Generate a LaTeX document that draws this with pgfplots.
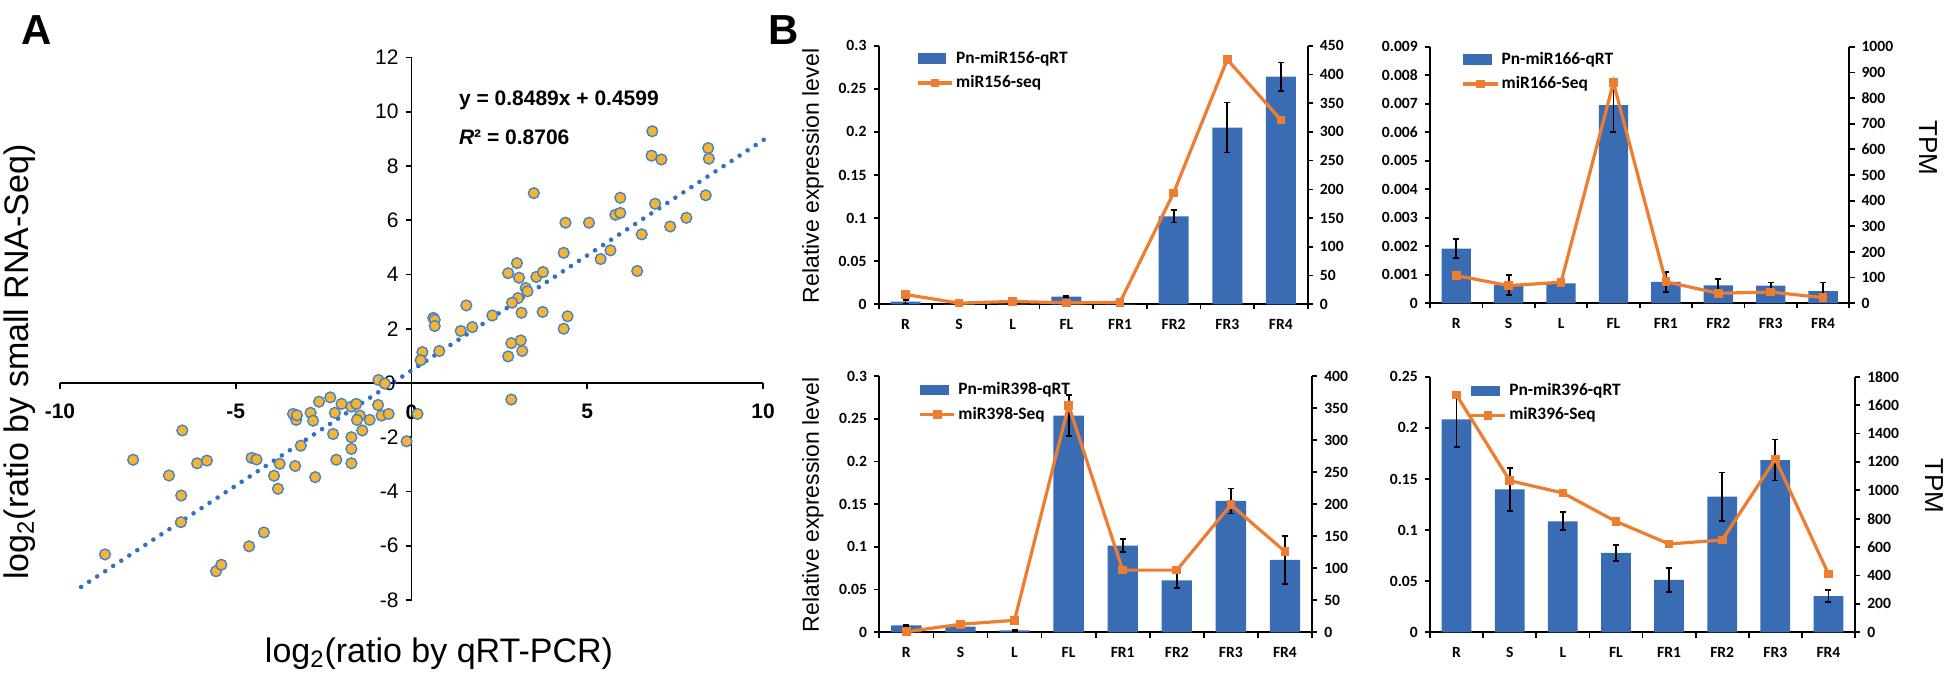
\documentclass[border=0pt]{standalone}
\usepackage{fontspec}
\setmainfont{Liberation Sans}
\newfontfamily\carlito{Carlito}
\usepackage{pgfplots}
\usepackage{pgfplotstable}
\pgfplotsset{compat=1.18}
\definecolor{barblue}{RGB}{58,108,180}
\definecolor{lineorange}{RGB}{237,125,49}
\definecolor{dotfill}{RGB}{245,180,50}
\definecolor{dotedge}{RGB}{70,130,200}
\definecolor{trendblue}{RGB}{50,112,192}

\pgfplotstableread{
x y
6.85 9.28
6.83 8.38
7.11 8.24
8.44 8.66
8.46 8.27
8.37 6.92
3.48 7.00
5.94 6.83
6.93 6.61
5.80 6.20
5.94 6.27
4.38 5.91
5.05 5.91
7.82 6.09
7.36 5.77
6.55 5.48
4.33 4.80
5.66 4.89
5.38 4.57
6.42 4.13
3.00 4.42
2.75 4.05
3.06 3.88
3.55 3.91
3.74 4.09
3.25 3.50
3.30 3.38
3.03 3.13
2.86 2.96
3.13 2.59
3.73 2.62
4.44 2.46
4.33 2.00
1.56 2.86
0.62 2.40
0.66 2.33
0.66 2.10
2.30 2.49
1.73 2.06
1.40 1.92
2.84 1.47
3.11 1.57
3.15 1.18
2.75 0.98
0.79 1.18
0.31 1.14
0.26 0.84
2.84 -0.61
-0.94 0.11
-0.76 -0.02
0.17 -1.14
-0.14 -2.15
-6.52 -1.75
-7.92 -2.83
-6.90 -3.41
-6.55 -4.15
-6.56 -5.13
-6.10 -2.96
-5.82 -2.86
-8.72 -6.32
-5.56 -6.94
-5.41 -6.70
-4.62 -6.02
-4.20 -5.51
-4.55 -2.76
-4.41 -2.82
-3.91 -3.42
-3.80 -3.90
-3.75 -2.98
-3.31 -3.06
-3.15 -2.31
-2.74 -3.47
-3.37 -1.14
-3.28 -1.36
-3.26 -1.19
-2.87 -1.10
-2.80 -1.39
-2.63 -0.69
-2.31 -0.53
-2.18 -1.10
-2.23 -1.88
-2.14 -2.83
-1.99 -0.77
-1.71 -0.87
-1.57 -0.77
-1.47 -1.20
-1.55 -1.36
-1.71 -2.00
-1.71 -2.43
-1.71 -2.96
-1.40 -1.75
-1.19 -1.36
-0.95 -0.81
-0.85 -1.20
-0.65 -1.14
}\scatterdata

\pgfplotstableread{
x qrt err seq
0 0.003 0.002 17
1 0.0005 0 2
2 0.0005 0 5
3 0.009 0.001 2.5
4 0.0003 0 3.5
5 0.102 0.007 194
6 0.205 0.029 426
7 0.264 0.0165 321
}\mirA
\pgfplotstableread{
x qrt err seq
0 0.00192 0.00034 108
1 0.00064 0.00034 69
2 0.00070 0.00002 82
3 0.00695 0.00093 860
4 0.00075 0.00035 84
5 0.00063 0.00021 39
6 0.00062 0.00011 44
7 0.00043 0.00030 22
}\mirB
\pgfplotstableread{
x qrt err seq
0 0.0082 0.001 1
1 0.0066 0.0005 12.5
2 0.0023 0.0005 18.7
3 0.2536 0.024 354
4 0.1014 0.0078 97
5 0.0609 0.0094 97
6 0.1537 0.0146 199
7 0.0847 0.028 126
}\mirC
\pgfplotstableread{
x qrt err seq
0 0.2083 0.027 1671
1 0.1398 0.021 1068
2 0.1085 0.0088 981
3 0.0776 0.008 781
4 0.0512 0.012 622
5 0.1327 0.0236 650
6 0.1685 0.020 1220
7 0.0355 0.0057 411
}\mirD

\pgfplotsset{
  tickfont/.style={font=\carlito\bfseries\fontsize{7.8}{9}\selectfont},
  barax/.style={
    scale only axis,
    anchor=south west,
    xmin=-0.5, xmax=7.5,
    axis x line=bottom, axis y line=left,
    axis line style={line width=0.85pt,-},
    xtick={0,...,7},
    xticklabels={R,S,L,FL,FR1,FR2,FR3,FR4},
    minor xtick={-0.5,0.5,...,7.5},
    major x tick style={draw=none},
    minor x tick style={line width=0.85pt,black},
    minor tick length=2.6pt,
    major tick length=2.6pt,
    tick align=outside,
    y tick style={line width=0.85pt,black},
    ymin=0,
    tickfont,
    xticklabel style={tickfont, yshift=-1.5pt},
    yticklabel style={tickfont},
    legend cell align=left,
    legend style={draw=none, fill=none, inner sep=0pt, row sep=2.2pt,
      font=\carlito\bfseries\fontsize{8.7}{10}\selectfont,
      nodes={inner sep=1.2pt}},
  },
  lineax/.style={
    scale only axis,
    anchor=south west,
    xmin=-0.5, xmax=7.5,
    axis x line=none, axis y line=right,
    axis line style={line width=0.85pt,-},
    ymin=0,
    major tick length=2.6pt,
    tick align=outside,
    y tick style={line width=0.85pt,black},
    yticklabel style={tickfont},
  },
  barplot/.style={ybar, bar width=0.56, fill=barblue, draw=none, bar shift=0pt,
    legend image code/.code={\fill[barblue] (0pt,-2.6pt) rectangle (14.2pt,2.6pt);},
    error bars/.cd, y dir=both, y explicit,
    error bar style={black, line width=0.9pt},
    error mark options={black, line width=0.9pt, mark size=1.5pt, rotate=90}},
  seqplot/.style={lineorange, line width=1.6pt, mark=square*, mark size=1.9pt,
    mark options={fill=lineorange, draw=lineorange, line width=0pt}},
}

\begin{document}
\begin{tikzpicture}
\useasboundingbox (0,0) rectangle (973pt,340pt);

% ---------------- Panel A ----------------
\begin{axis}[
  scale only axis, anchor=south west, at={(30pt,40pt)},
  width=351.5pt, height=271.25pt,
  xmin=-10, xmax=10, ymin=-8, ymax=12,
  axis lines=middle,
  axis line style={line width=0.9pt,-},
  xtick={-10,-5,0,5,10},
  xticklabels={-10,-5,0,5,10},
  ytick={-8,-6,...,12},
  yticklabels={-8,-6,-4,-2,0,2,4,6,8,10,12},
  tick align=outside,
  major tick length=3pt,
  tick style={line width=0.9pt,black},
  xticklabel style={font=\bfseries\fontsize{10.5}{12}\selectfont, yshift=-4pt},
  yticklabel style={font=\fontsize{10.5}{12}\selectfont},
  clip=false,
]
\addplot[trendblue, line width=2.3pt, line cap=round, dash pattern=on 0pt off 4.8pt]
  coordinates {(-9.4,-7.52) (10.17,9.093)};
\node[font=\fontsize{10.5}{12}\selectfont, anchor=east] at (axis cs:0,0) [xshift=-4.5pt] {0};
\node[font=\bfseries\fontsize{10.5}{12}\selectfont, anchor=north] at (axis cs:0,0) [yshift=-7.3pt] {0};
\addplot[only marks, mark=*, mark size=2.7pt,
  mark options={fill=dotfill, draw=dotedge, line width=0.7pt}]
  table[x=x,y=y] {\scatterdata};
\end{axis}
\node[font=\bfseries\fontsize{10.5}{12}\selectfont, anchor=west] at (226pt,289.6pt) {y = 0.8489x + 0.4599};
\node[font=\bfseries\fontsize{10.5}{12}\selectfont, anchor=west] at (226pt,271.3pt) {\textit{R}² = 0.8706};
\node[font=\fontsize{17}{20}\selectfont] at (219.5pt,13pt) {log\textsubscript{2}(ratio by qRT-PCR)};
\node[font=\fontsize{17}{20}\selectfont, rotate=90] at (10pt,159pt) {log\textsubscript{2}(ratio by small RNA-Seq)};
\node[font=\bfseries\fontsize{21}{24}\selectfont] at (18.5pt,325pt) {A};
\node[font=\bfseries\fontsize{21}{24}\selectfont] at (392pt,325pt) {B};

% ---------------- Panel B: miR156 ----------------
\begin{axis}[barax, at={(439.35pt,187.85pt)}, width=214.5pt, height=129.3pt,
  ymax=0.3, ytick={0,0.05,...,0.3}, yticklabels={0,0.05,0.1,0.15,0.2,0.25,0.3},
  legend style={at={(0.087,0.99)}, anchor=north west}]
\addplot[barplot] table[x=x,y=qrt,y error=err] {\mirA};
\addlegendentry{Pn-miR156-qRT}
\addlegendimage{seqplot}
\addlegendentry{miR156-seq}
\end{axis}
\begin{axis}[lineax, at={(439.35pt,187.85pt)}, width=214.5pt, height=129.3pt,
  ymax=450, ytick={0,50,...,450}, yticklabels={0,50,100,150,200,250,300,350,400,450}]
\addplot[seqplot] table[x=x,y=seq] {\mirA};
\end{axis}

% ---------------- Panel B: miR166 ----------------
\begin{axis}[barax, at={(715pt,188.35pt)}, width=209.65pt, height=128.3pt,
  ymax=0.009, ytick={0,0.001,...,0.009}, scaled y ticks=false,
  yticklabels={0,0.001,0.002,0.003,0.004,0.005,0.006,0.007,0.008,0.009},
  legend style={at={(0.075,0.99)}, anchor=north west}]
\addplot[barplot] table[x=x,y=qrt,y error=err] {\mirB};
\addlegendentry{Pn-miR166-qRT}
\addlegendimage{seqplot}
\addlegendentry{miR166-Seq}
\end{axis}
\begin{axis}[lineax, at={(715pt,188.35pt)}, width=209.65pt, height=128.3pt,
  ymax=1000, ytick={0,100,...,1000}, yticklabels={0,100,200,300,400,500,600,700,800,900,1000}]
\addplot[seqplot] table[x=x,y=seq] {\mirB};
\end{axis}

% ---------------- Panel B: miR398 ----------------
\begin{axis}[barax, at={(439.65pt,23.85pt)}, width=216.35pt, height=128.15pt,
  ymax=0.3, ytick={0,0.05,...,0.3}, yticklabels={0,0.05,0.1,0.15,0.2,0.25,0.3},
  legend style={at={(0.09,0.985)}, anchor=north west}]
\addplot[barplot] table[x=x,y=qrt,y error=err] {\mirC};
\addlegendentry{Pn-miR398-qRT}
\addlegendimage{seqplot}
\addlegendentry{miR398-Seq}
\end{axis}
\begin{axis}[lineax, at={(439.65pt,23.85pt)}, width=216.35pt, height=128.15pt,
  ymax=400, ytick={0,50,...,400}, yticklabels={0,50,100,150,200,250,300,350,400}]
\addplot[seqplot] table[x=x,y=seq] {\mirC};
\end{axis}

% ---------------- Panel B: miR396 ----------------
\begin{axis}[barax, at={(715pt,23.85pt)}, width=212.5pt, height=127.8pt,
  ymax=0.25, ytick={0,0.05,...,0.25}, yticklabels={0,0.05,0.1,0.15,0.2,0.25},
  legend style={at={(0.092,0.985)}, anchor=north west}]
\addplot[barplot] table[x=x,y=qrt,y error=err] {\mirD};
\addlegendentry{Pn-miR396-qRT}
\addlegendimage{seqplot}
\addlegendentry{miR396-Seq}
\end{axis}
\begin{axis}[lineax, at={(715pt,23.85pt)}, width=212.5pt, height=127.8pt,
  ymax=1800, ytick={0,200,...,1800}, yticklabels={0,200,400,600,800,1000,1200,1400,1600,1800}]
\addplot[seqplot] table[x=x,y=seq] {\mirD};
\end{axis}

\node[font=\fontsize{11.5}{13}\selectfont, rotate=90] at (406.5pt,252pt) {Relative expression level};
\node[font=\fontsize{11.5}{13}\selectfont, rotate=90] at (406.5pt,87.5pt) {Relative expression level};
\node[font=\fontsize{13}{15}\selectfont, rotate=-90] at (964pt,266pt) {TPM};
\node[font=\fontsize{13}{15}\selectfont, rotate=-90] at (967pt,97pt) {TPM};
\end{tikzpicture}
\end{document}
